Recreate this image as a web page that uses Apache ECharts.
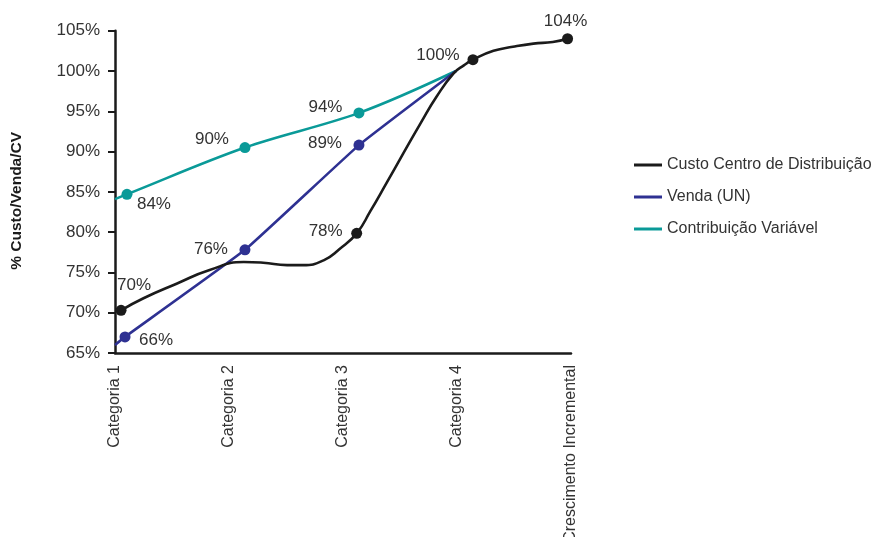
<!DOCTYPE html>
<html><head><meta charset="utf-8">
<script src="https://cdn.jsdelivr.net/npm/echarts@6/dist/echarts.min.js"></script>
<style>html,body{margin:0;padding:0;background:#fff;}#c{width:872px;height:537px;}</style>
</head><body><div id="c"></div>
<script>
// ---- data ----
const categories = ['Categoria 1', 'Categoria 2', 'Categoria 3', 'Categoria 4', 'Crescimento Incremental'];
const yTicks = [65, 70, 75, 80, 85, 90, 95, 100, 105];
const seriesNames = ['Custo Centro de Distribuição', 'Venda (UN)', 'Contribuição Variável'];

// Custo Centro de Distribuição: x position (category units), value (%)
const custoX = [0.053, 0.25, 0.54, 0.83, 1.13, 1.30, 1.51, 1.65, 1.83, 1.97, 2.12, 2.24, 2.38, 2.53, 2.68, 2.82, 2.97, 3.06, 3.14, 3.32, 3.49, 3.67, 3.84, 3.97];
const custoY = [70.3, 71.8, 73.6, 75.3, 76.3, 76.2, 75.9, 75.9, 76.5, 77.9, 79.85, 82.6, 86.05, 89.8, 93.5, 96.8, 99.7, 100.7, 101.4, 102.5, 103.0, 103.4, 103.6, 104.0];
const custoLabels = ['70%', '', '', '', '', '', '', '', '', '', '78%', '', '', '', '', '', '', '', '100%', '', '', '', '', '104%'];

// Venda (UN)
const vendaX = [0, 0.088, 1.14, 2.14, 2.99];
const vendaY = [66.0, 67.0, 77.8, 90.8, 100.0];
const vendaLabels = ['', '66%', '76%', '89%', ''];

// Contribuição Variável
const contribX = [0, 0.105, 1.14, 2.14, 2.99];
const contribY = [84.1, 84.7, 90.5, 94.8, 100.0];
const contribLabels = ['', '84%', '90%', '94%', ''];

// ---- styling (label offsets, not data) ----
const FONT = '"Liberation Sans", Arial, sans-serif';
const labelOffsets = {
  '0-0': [13, -25], '0-10': [-31, -2], '0-18': [-35, -4], '0-23': [-2, -17],
  '1-1': [31, 3], '1-2': [-34, -1], '1-3': [-34, -1.5],
  '2-1': [27, 10], '2-2': [-33, -8], '2-3': [-33.5, -6]
};
const colors = ['#1b1b1b', '#2e3192', '#0a9a98'];
const smoothBy = [0.5, 0.1, 0.35];

function build(si, xs, ys, labels) {
  return xs.map((x, i) => {
    const txt = labels[i];
    const isMark = txt !== '';
    const off = labelOffsets[si + '-' + i] || [0, 0];
    return {
      value: [x, ys[i]],
      symbolSize: isMark ? 11 : 0,
      label: {
        show: isMark,
        formatter: txt,
        position: 'inside',
        offset: off,
        color: '#333',
        fontFamily: FONT,
        fontSize: 17
      }
    };
  });
}

const chart = echarts.init(document.getElementById('c'), null, { renderer: 'canvas' });
const mkSeries = (si, xs, ys, labels) => ({
  name: seriesNames[si],
  type: 'line',
  data: build(si, xs, ys, labels),
  smooth: smoothBy[si],
  symbol: 'circle',
  showAllSymbol: true,
  lineStyle: { width: 2.6, color: colors[si] },
  itemStyle: { color: colors[si] },
  emphasis: { disabled: true },
  z: 3 - si
});

chart.setOption({
  animation: false,
  grid: { left: 115, right: 301, top: 30.7, bottom: 184, containLabel: false, outerBoundsMode: 'none' },
  legend: {
    orient: 'vertical',
    left: 629,
    top: 150,
    itemWidth: 28,
    itemHeight: 3,
    itemGap: 12,
    icon: 'rect',
    textStyle: { fontFamily: FONT, fontSize: 16, lineHeight: 20, color: '#333' },
    data: seriesNames
  },
  xAxis: {
    type: 'value',
    min: 0, max: 4, interval: 1,
    splitLine: { show: false },
    axisLine: { lineStyle: { color: '#1b1b1b', width: 2.5 } },
    axisTick: { show: false },
    axisLabel: {
      rotate: 90,
      margin: 12,
      formatter: v => categories[Math.round(v)] || '',
      fontFamily: FONT, fontSize: 16, color: '#333'
    }
  },
  yAxis: {
    type: 'value',
    min: yTicks[0], max: yTicks[yTicks.length - 1], interval: yTicks[1] - yTicks[0],
    name: '% Custo/Venda/CV',
    nameLocation: 'middle',
    nameGap: 90,
    nameTextStyle: { fontFamily: FONT, fontSize: 15.5, fontWeight: 'bold', color: '#1b1b1b', padding: [0, 18, 0, 0] },
    splitLine: { show: false },
    axisLine: { show: true, lineStyle: { color: '#1b1b1b', width: 2.5 } },
    axisTick: { show: true, length: 7, lineStyle: { color: '#1b1b1b', width: 2 } },
    axisLabel: {
      margin: 15,
      formatter: v => v + '%',
      fontFamily: FONT, fontSize: 17, color: '#333'
    }
  },
  series: [
    mkSeries(0, custoX, custoY, custoLabels),
    mkSeries(1, vendaX, vendaY, vendaLabels),
    mkSeries(2, contribX, contribY, contribLabels)
  ]
});
</script></body></html>
